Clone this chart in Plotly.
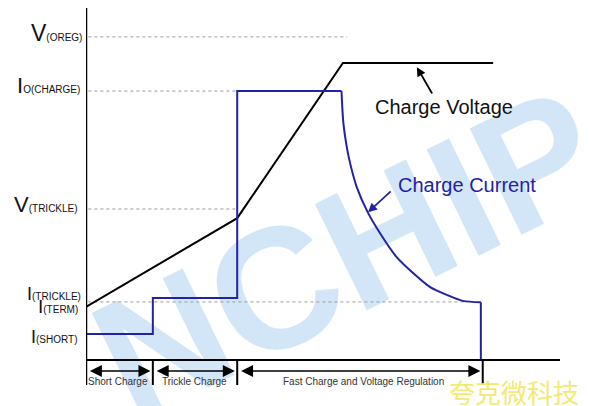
import plotly.graph_objects as go

# ---- data (time in arbitrary units, level in arbitrary units) ----
current_step_t = [0.0, 1.41, 1.41, 3.19, 3.19, 5.39]
current_step_v = [0.74, 0.74, 1.76, 1.76, 7.64, 7.64]
current_taper_t = [5.39, 5.43, 5.50, 5.57, 5.71, 5.95, 6.20, 6.55, 6.90, 7.26, 7.61, 7.95, 8.33]
current_taper_v = [7.64, 6.73, 6.06, 5.60, 4.92, 4.18, 3.61, 2.93, 2.47, 2.07, 1.85, 1.68, 1.64]
current_end_t = [8.33, 8.33]
current_end_v = [1.64, 0.0]

voltage_t = [0.0, 3.19, 5.42, 8.59]
voltage_v = [1.51, 4.03, 8.44, 8.44]

# reference levels and where their dashed guide lines end
level_names = ["V(OREG)", "IO(CHARGE)", "V(TRICKLE)", "I(TERM)"]
level_values = [9.18, 7.64, 4.29, 1.65]
level_ends = [5.51, 3.16, 3.16, 8.00]

label_main = ["V", "I", "V", "I", "I", "I"]
label_sub = ["(OREG)", "O(CHARGE)", "(TRICKLE)", "(TRICKLE)", "(TERM)", "(SHORT)"]
label_y = [9.28, 7.79, 4.43, 1.88, 1.51, 0.65]
label_size = [23, 22, 22, 18, 19, 18]
label_shift = [-2, -4, -6, -3, -6, -6]

phase_names = ["Short Charge", "Trickle Charge", "Fast Charge and Voltage Regulation"]
phase_edges = [0.0, 1.41, 3.19, 8.37]
phase_label_x = [0.675, 2.29, 5.86]

BLUE = "#2222a6"
FONT = "Arial, Liberation Sans, sans-serif"

fig = go.Figure()

# watermark (below traces)
fig.add_shape(type="rect", xref="paper", yref="paper", x0=0.57, x1=0.77, y0=0.37, y1=0.57,
              line=dict(width=0), fillcolor="rgba(0,0,0,0)", layer="below",
              label=dict(text="NCHIP.S", textangle=-26, textposition="middle center",
                         font=dict(family="Liberation Sans Narrow, Arial Narrow, sans-serif",
                                   size=172, color="#d3e6f8", weight="bold")))

# dashed reference lines
for v, e in zip(level_values, level_ends):
    fig.add_shape(type="line", x0=0.05, x1=e, y0=v, y1=v,
                  line=dict(color="#9a9a9a", width=1, dash="dot"), layer="below")

fig.add_trace(go.Scatter(x=voltage_t, y=voltage_v, mode="lines",
                         line=dict(color="black", width=2), hoverinfo="skip"))
fig.add_trace(go.Scatter(x=current_step_t, y=current_step_v, mode="lines",
                         line=dict(color=BLUE, width=2), hoverinfo="skip"))
fig.add_trace(go.Scatter(x=current_taper_t, y=current_taper_v, mode="lines",
                         line=dict(color=BLUE, width=2, shape="spline", smoothing=0.8),
                         hoverinfo="skip"))
fig.add_trace(go.Scatter(x=current_end_t, y=current_end_v, mode="lines",
                         line=dict(color=BLUE, width=2), hoverinfo="skip"))

# axes drawn as lines
fig.add_shape(type="line", x0=0, x1=0, y0=-0.71, y1=10, line=dict(color="black", width=2.5))
fig.add_shape(type="line", x0=0, x1=10, y0=0, y1=0, line=dict(color="black", width=2))

# phase ticks
for e in phase_edges[1:]:
    fig.add_shape(type="line", x0=e, x1=e, y0=0, y1=-0.71, line=dict(color="black", width=2))

ann = []
# double arrows for phases
for i in range(3):
    a0 = phase_edges[i] + 0.05
    a1 = phase_edges[i + 1] - 0.05
    ann.append(dict(x=a1, y=-0.31, ax=a0, ay=-0.31, axref="x", ayref="y", xref="x", yref="y",
                    text="", showarrow=True, arrowhead=2, startarrowhead=2, arrowside="end+start",
                    arrowwidth=1.5, arrowsize=1.6, startarrowsize=1.6, arrowcolor="black"))
    ann.append(dict(x=phase_label_x[i], y=-0.62, xref="x", yref="y", text=phase_names[i],
                    showarrow=False, font=dict(family=FONT, size=10, color="#333333")))

# left labels
for m, s, y, fs, sh in zip(label_main, label_sub, label_y, label_size, label_shift):
    ann.append(dict(x=0, y=y, xref="x", yref="y", xanchor="right", yanchor="middle",
                    xshift=sh, showarrow=False,
                    text=f"{m}<span style='font-size:10px'>{s}</span>",
                    font=dict(family=FONT, size=fs, color="#111111")))

# series labels with pointer arrows
ann.append(dict(x=6.98, y=8.32, ax=7.32, ay=7.53, axref="x", ayref="y", xref="x", yref="y",
                text="", showarrow=True, arrowhead=2, arrowwidth=1.8, arrowsize=1.0,
                arrowcolor="black"))
ann.append(dict(x=7.55, y=7.19, xref="x", yref="y", text="Charge Voltage", showarrow=False,
                font=dict(family=FONT, size=20, color="#111111")))
ann.append(dict(x=5.95, y=4.20, ax=6.46, ay=4.83, axref="x", ayref="y", xref="x", yref="y",
                text="", showarrow=True, arrowhead=2, arrowwidth=1.8, arrowsize=1.0,
                arrowcolor=BLUE))
ann.append(dict(x=8.04, y=4.97, xref="x", yref="y", text="Charge Current", showarrow=False,
                font=dict(family=FONT, size=20, color=BLUE)))

# corner watermark text
ann.append(dict(x=(514 - 86) / 474, y=(385 - 391) / 377, xref="paper", yref="paper",
                xanchor="center", yanchor="middle", text="夸克微科技", showarrow=False,
                font=dict(family="Noto Sans CJK SC", size=26, color="#f2ea72")))

fig.update_layout(
    annotations=ann,
    width=589, height=406,
    margin=dict(l=86, r=29, t=8, b=21),
    plot_bgcolor="white", paper_bgcolor="white",
    showlegend=False,
    xaxis=dict(range=[0, 10], visible=False, fixedrange=True),
    yaxis=dict(range=[-0.71, 10], visible=False, fixedrange=True),
)

fig.write_html("out.html", config={"displayModeBar": False},
               post_script="document.body.style.margin='0';document.body.style.overflow='hidden';")
